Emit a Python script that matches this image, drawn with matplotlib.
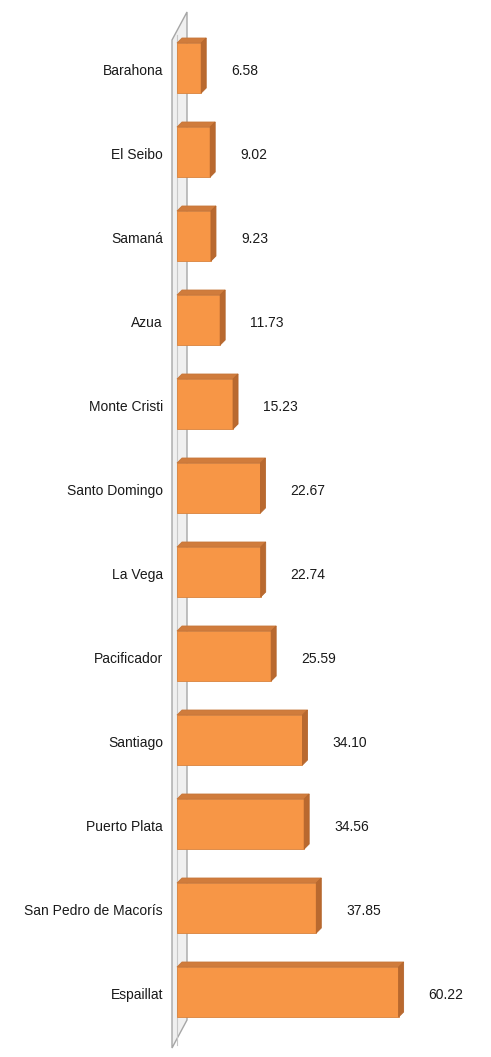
import matplotlib.pyplot as plt
from matplotlib.patches import Polygon
from matplotlib import font_manager

provinces = ["Barahona", "El Seibo", "Samaná", "Azua", "Monte Cristi", "Santo Domingo",
             "La Vega", "Pacificador", "Santiago", "Puerto Plata", "San Pedro de Macorís",
             "Espaillat"]
values = [6.58, 9.02, 9.23, 11.73, 15.23, 22.67, 22.74, 25.59, 34.10, 34.56, 37.85, 60.22]

names = {f.name for f in font_manager.fontManager.ttflist}
fam = ["Liberation Sans Narrow", "DejaVu Sans"] if "Liberation Sans Narrow" in names else ["Liberation Sans", "DejaVu Sans"]
plt.rcParams['font.family'] = fam

W, H = 491, 1057
fig = plt.figure(figsize=(W / 100, H / 100), dpi=100)
ax = fig.add_axes([0, 0, 1, 1])

s = 3.68      # px per unit
x0 = 177      # px of zero
row = 84.0    # px per row
y0 = 68       # px of first row centre
ax.set_xlim(-x0 / s, (W - x0) / s)
ax.set_ylim((H - y0) / row, -y0 / row)
ax.axis('off')

px = 1 / s
py = 1 / row

# 3D wall
wall = Polygon([(-5 * px, (40 - y0) * py), (10 * px, (12 - y0) * py),
                (10 * px, (1020 - y0) * py), (-5 * px, (1048 - y0) * py)],
               closed=True, facecolor='#f0f0f0', edgecolor='#a6a6a6', lw=1.0, zorder=1)
ax.add_patch(wall)
ax.plot([0, 0], [(35 - y0) * py, (1045 - y0) * py], color='#c8c8c8', lw=0.8, zorder=1)

h = 50 * py
dx = 5 * px
dy = 5 * py
for i, v in enumerate(values):
    yt = i - h / 2
    yb = i + h / 2
    front = Polygon([(0, yt), (v, yt), (v, yb), (0, yb)], closed=True,
                    facecolor='#f79646', edgecolor='#d9833d', lw=0.6, zorder=3)
    top = Polygon([(0, yt), (dx, yt - dy), (v + dx, yt - dy), (v, yt)], closed=True,
                  facecolor='#d07c3c', edgecolor='#c8773a', lw=0.6, zorder=3)
    side = Polygon([(v, yt), (v + dx, yt - dy), (v + dx, yb - dy), (v, yb)], closed=True,
                   facecolor='#b9692f', edgecolor='#b5662c', lw=0.6, zorder=3)
    for p in (front, top, side):
        ax.add_patch(p)
    ax.text(-14 * px, i + 3 * py, provinces[i], ha='right', va='center', fontsize=10, color='#1a1a1a')
    ax.text(v + 30 * px, i + 3 * py, f"{v:.2f}", ha='left', va='center', fontsize=10, color='#1a1a1a')

fig.savefig('out.png', dpi=100)
